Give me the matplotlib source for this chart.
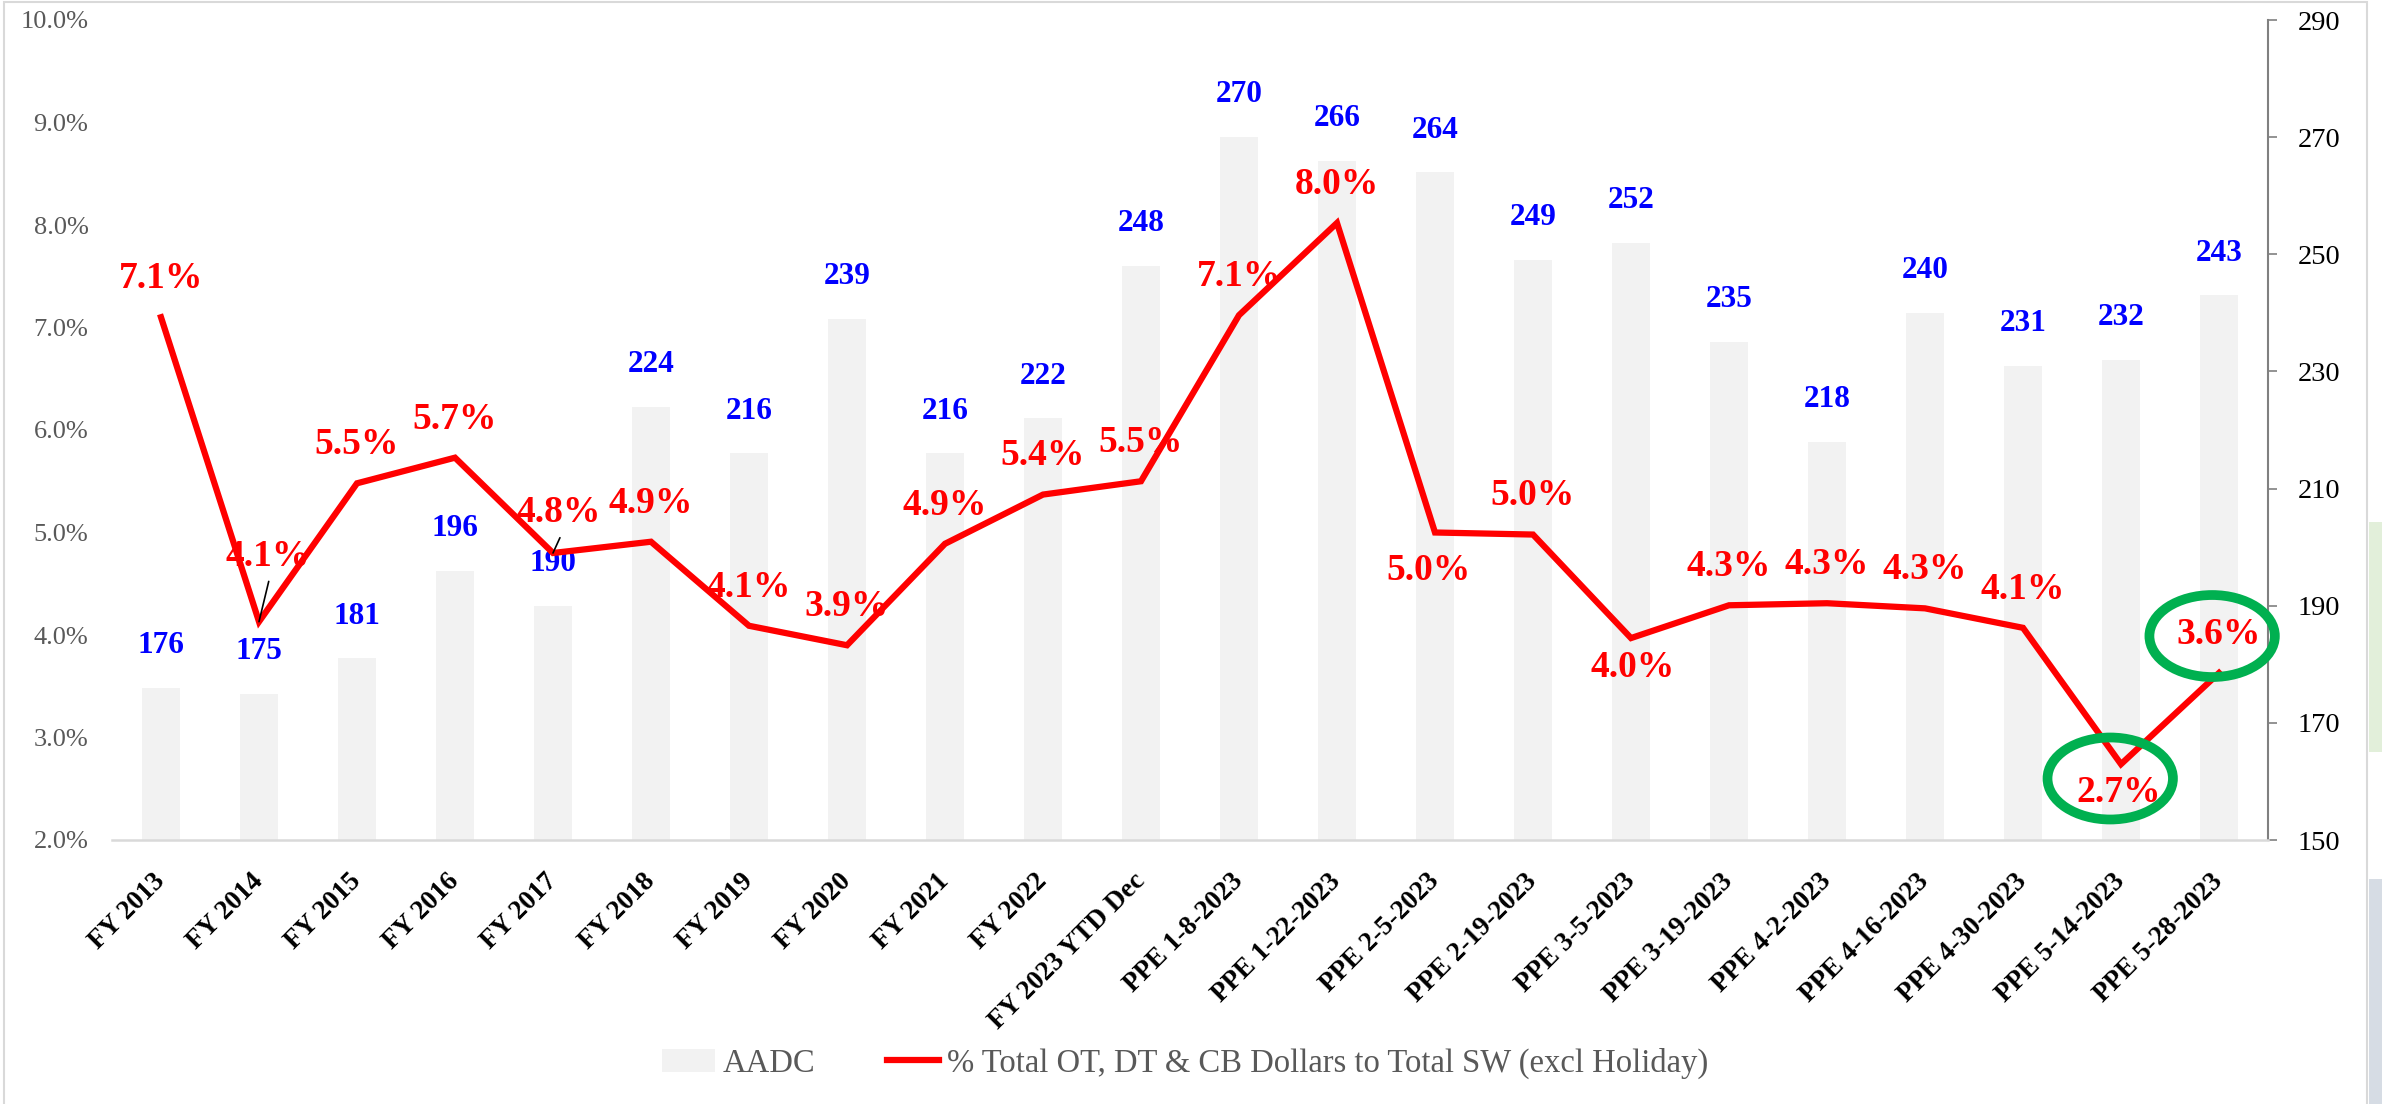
import numpy as np
import matplotlib.pyplot as plt
from matplotlib.patches import Ellipse, Rectangle

categories = ["FY 2013", "FY 2014", "FY 2015", "FY 2016", "FY 2017", "FY 2018",
              "FY 2019", "FY 2020", "FY 2021", "FY 2022", "FY 2023 YTD Dec",
              "PPE 1-8-2023", "PPE 1-22-2023", "PPE 2-5-2023", "PPE 2-19-2023",
              "PPE 3-5-2023", "PPE 3-19-2023", "PPE 4-2-2023", "PPE 4-16-2023",
              "PPE 4-30-2023", "PPE 5-14-2023", "PPE 5-28-2023"]
aadc = [176, 175, 181, 196, 190, 224, 216, 239, 216, 222, 248,
        270, 266, 264, 249, 252, 235, 218, 240, 231, 232, 243]
ot_pct = [7.10, 4.13, 5.48, 5.73, 4.80, 4.91, 4.09, 3.90, 4.89, 5.37, 5.50,
          7.12, 8.02, 5.00, 4.98, 3.97, 4.29, 4.31, 4.26, 4.07, 2.74, 3.63]
pct_ticks = [2, 3, 4, 5, 6, 7, 8, 9, 10]
aadc_ticks = [150, 170, 190, 210, 230, 250, 270, 290]
legend_labels = ["AADC", "% Total OT, DT & CB Dollars to Total SW (excl Holiday)"]

plt.rcParams['font.family'] = ['Liberation Serif', 'DejaVu Serif']

W, H = 2382, 1104
fig = plt.figure(figsize=(W / 100, H / 100), dpi=100)
ax = fig.add_axes([112 / W, 1 - 840 / H, (2268 - 112) / W, 820 / H])
ax2 = ax.twinx()
ax.set_zorder(ax2.get_zorder() + 1)
ax.patch.set_visible(False)

x = np.arange(len(categories))

# bars on the right axis
bars = ax2.bar(x, aadc, width=0.39, color='#F2F2F2', label=legend_labels[0])
ax2.set_ylim(150, 290)
ax2.set_yticks(aadc_ticks)
for i, v in enumerate(aadc):
    ax2.annotate(str(v), (i, v), xytext=(0, 25), textcoords='offset points',
                 ha='center', va='baseline', color='#0000FF', fontsize=22.5,
                 fontweight='bold')

# line on the left axis
line, = ax.plot(x, ot_pct, color='#FF0000', lw=4.5, solid_joinstyle='miter',
                label=legend_labels[1])
ax.set_ylim(2, 10)
ax.set_xlim(-0.5, len(categories) - 0.5)
ax.set_yticks(pct_ticks)
ax.set_yticklabels(["%.1f%%" % t for t in pct_ticks])

# label offsets (points) where the label was moved off its default spot
moved = {1: (6, 40), 4: (4, 22), 13: (-5, -34), 15: (1, -28), 20: (-2, -27)}
leaders = {1: (7, 29), 4: (5, 11)}
for i, v in enumerate(ot_pct):
    dx, dy = moved.get(i, (0, 21))
    ax.annotate("%.1f%%" % v, (i, v), xytext=(dx, dy), textcoords='offset points',
                ha='center', va='baseline', color='#FF0000', fontsize=27,
                fontweight='bold')
for i, off in leaders.items():
    ax.annotate("", (i, ot_pct[i]), xytext=off, textcoords='offset points',
                arrowprops=dict(arrowstyle='-', color='black', lw=1.2,
                                shrinkA=0, shrinkB=0))

# green circles around the last two points
for i, dx, dy in [(20, -0.11, -0.14), (21, -0.07, 0.36)]:
    ax.add_patch(Ellipse((i + dx, ot_pct[i] + dy), 1.28, 0.80, fill=False,
                         ec='#00B050', lw=7, zorder=5, clip_on=False))

# axes styling
for s in ['top', 'left', 'right']:
    ax.spines[s].set_visible(False)
ax.spines['bottom'].set_color('#D9D9D9')
ax.spines['bottom'].set_linewidth(1.8)
for s in ['top', 'left', 'bottom']:
    ax2.spines[s].set_visible(False)
ax2.spines['right'].set_color('#808080')
ax2.spines['right'].set_linewidth(1.5)

ax.tick_params(axis='y', length=0, pad=17, labelsize=19, labelcolor='#595959')
ax2.tick_params(axis='y', direction='out', length=6.5, width=1.2, color='#808080',
                pad=15, labelsize=20.5, labelcolor='black')
ax.set_xticks(x)
ax.set_xticklabels(categories, rotation=45, ha='right', va='center',
                   rotation_mode='anchor', fontweight='bold', fontsize=19.5)
ax.tick_params(axis='x', length=0, pad=27)

fig.legend([bars, line], legend_labels, loc='center', ncol=2,
           bbox_to_anchor=(0.4977, 0.037), frameon=False, fontsize=23.5,
           labelcolor='#595959', handlelength=1.6, handletextpad=0.25,
           columnspacing=2.2)

# chart frame and neighbouring slide shapes
fig.patches.append(Rectangle((4 / W, -0.01), 2363 / W, 1.01 - 2 / H,
                             transform=fig.transFigure, fill=False,
                             ec='#D9D9D9', lw=1.5))
fig.patches.append(Rectangle((2369 / W, 1 - 752 / H), 13 / W, 230 / H,
                             transform=fig.transFigure, color='#E2EFDA', lw=0))
fig.patches.append(Rectangle((2369 / W, 0), 13 / W, 225 / H,
                             transform=fig.transFigure, color='#D6DCE4', lw=0))

fig.savefig("out.png", dpi=100)
